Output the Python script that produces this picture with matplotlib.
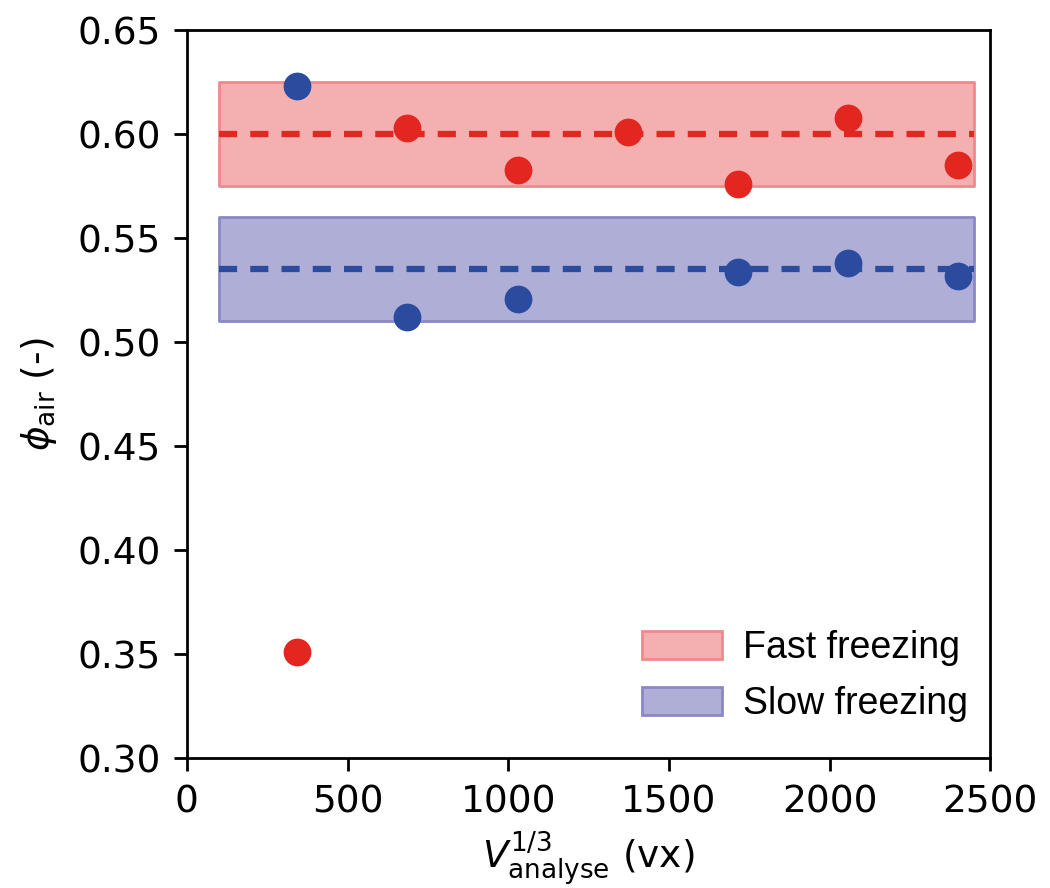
import matplotlib
matplotlib.use("Agg")
import matplotlib.pyplot as plt
import numpy as np

x_fast = [343, 686, 1029, 1372, 1715, 2058, 2401]
y_fast = [0.351, 0.603, 0.583, 0.601, 0.576, 0.608, 0.585]
x_slow = [343, 686, 1029, 1715, 2058, 2401]
y_slow = [0.623, 0.512, 0.521, 0.534, 0.538, 0.532]

fast_mean, fast_lo, fast_hi = 0.600, 0.575, 0.625
slow_mean, slow_lo, slow_hi = 0.535, 0.510, 0.560
band_x = [100, 2450]

red = '#E32620'
blue = '#2B4C9E'

plt.rcParams['font.family'] = ['DejaVu Sans']
fig = plt.figure(figsize=(10.5, 8.88), dpi=100)
ax = fig.add_axes([0.178, 0.146, 0.765, 0.820])

ax.fill_between(band_x, fast_lo, fast_hi, facecolor='#F4AFB1', edgecolor='#EE8A8E',
                linewidth=2, label='Fast freezing', zorder=1)
ax.fill_between(band_x, slow_lo, slow_hi, facecolor='#AFAED7', edgecolor='#8A88C6',
                linewidth=2, label='Slow freezing', zorder=1)
ax.plot(band_x, [fast_mean, fast_mean], ls=(0, (2.9, 2.1)), color=red, lw=4.5, zorder=2)
ax.plot(band_x, [slow_mean, slow_mean], ls=(0, (2.9, 2.1)), color=blue, lw=4.5, zorder=2)

ax.scatter(x_fast, y_fast, s=400, color=red, zorder=3, linewidths=0)
ax.scatter(x_slow, y_slow, s=400, color=blue, zorder=3, linewidths=0)

ax.set_xlim(0, 2500)
ax.set_ylim(0.30, 0.65)
ax.set_xticks([0, 500, 1000, 1500, 2000, 2500])
ax.set_yticks(np.arange(0.30, 0.651, 0.05))
ax.set_yticklabels([f'{v:.2f}' for v in np.arange(0.30, 0.651, 0.05)])
ax.tick_params(labelsize=27, width=2, length=9.5, pad=9.5)
for s in ax.spines.values():
    s.set_linewidth(2)

ax.set_xlabel(r'$V_{\mathrm{analyse}}^{1/3}$ (vx)', fontsize=27, labelpad=6)
ax.set_ylabel(r'$\phi_{\mathrm{air}}$ (-)', fontsize=27, labelpad=13)

leg = ax.legend(loc='lower right', frameon=False, handlelength=2.13,
                handleheight=0.75, handletextpad=0.55, borderaxespad=0.0, borderpad=0.0,
                labelspacing=0.53, bbox_to_anchor=(0.972, 0.05),
                prop={'family': 'Liberation Sans', 'size': 27})

fig.savefig('out.png', dpi=100)
